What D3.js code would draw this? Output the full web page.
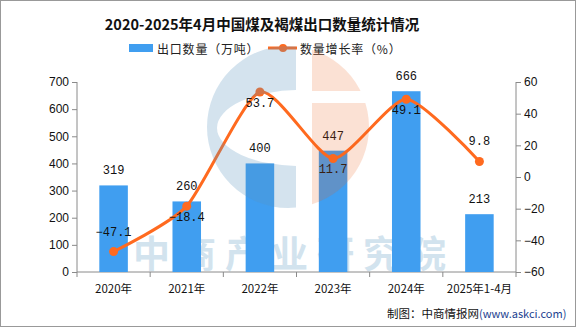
<!DOCTYPE html>
<html><head><meta charset="utf-8">
<script src="https://cdn.jsdelivr.net/npm/d3@7/dist/d3.min.js"></script>
<style>body{margin:0;background:#fff}svg{display:block}</style>
</head><body><svg id="c" width="576" height="327"></svg>
<script>
const categories = ["2020年","2021年","2022年","2023年","2024年","2025年1-4月"];
const exportVolume = [319,260,400,447,666,213];
const growthRate = [-47.1,-18.4,53.7,11.7,49.1,9.8];
const leftTicks = [0,100,200,300,400,500,600,700];
const rightTicks = [-60,-40,-20,0,20,40,60];
const title = "2020-2025年4月中国煤及褐煤出口数量统计情况";
const legendLabels = ["出口数量（万吨）","数量增长率（%）"];

const svg = d3.select("#c");
const FONT = "'Noto Sans CJK SC','Liberation Sans',sans-serif";
const NUMF = "'Liberation Mono','DejaVu Sans Mono',monospace";
const barColor = "#409ef0", lineColor = "#ff6a1f";
const L = 77, R = 516, T = 82, B = 272;

svg.append("rect").attr("x",0.5).attr("y",0.5).attr("width",575).attr("height",326)
  .attr("fill","#fff").attr("stroke","#999");

const x = d3.scaleBand().domain(categories).range([L,R]).paddingInner(0.61).paddingOuter(0.305);
const xc = d => x(d) + x.bandwidth()/2;
const yL = d3.scaleLinear().domain([0,700]).range([B,T]);
const yR = d3.scaleLinear().domain([-60,60]).range([B,T]);

// watermark text (behind)
svg.append("text").attr("x",133).attr("y",268)
  .attr("font-family",FONT).attr("font-weight","bold")
  .attr("font-size",37).attr("letter-spacing",9).attr("fill","#d2e3ee").text("中商产业研究院");

// title
svg.append("text").attr("x",262).attr("y",23).attr("text-anchor","middle").attr("dominant-baseline","central")
  .attr("font-family",FONT).attr("font-weight","bold").attr("font-size",14.5).attr("fill","#111").text(title);

// legend
svg.append("rect").attr("x",129).attr("y",44).attr("width",24).attr("height",8).attr("fill",barColor);
svg.append("text").attr("x",157).attr("y",48.5).attr("dominant-baseline","central").attr("font-family",FONT)
  .attr("font-size",12).attr("letter-spacing",0.8).attr("fill","#222").text(legendLabels[0]);
svg.append("line").attr("x1",268).attr("x2",297).attr("y1",48).attr("y2",48).attr("stroke",lineColor).attr("stroke-width",3);
svg.append("circle").attr("cx",283).attr("cy",48).attr("r",4).attr("fill",lineColor);
svg.append("text").attr("x",300).attr("y",48.5).attr("dominant-baseline","central").attr("font-family",FONT)
  .attr("font-size",12).attr("letter-spacing",0.8).attr("fill","#222").text(legendLabels[1]);

// axes
const axC = "#8a8a8a";
const gL = svg.append("g").attr("transform",`translate(${L},0)`)
  .call(d3.axisLeft(yL).tickValues(leftTicks).tickSize(5).tickPadding(3));
const gR = svg.append("g").attr("transform",`translate(${R},0)`)
  .call(d3.axisRight(yR).tickValues(rightTicks).tickSize(5).tickPadding(3).tickFormat(d => d<0 ? "−"+Math.abs(d) : d));
const xTickPos = d3.range(categories.length+1).map(i => L + i*(R-L)/categories.length);
const gX = svg.append("g").attr("transform",`translate(0,${B})`);
gX.append("line").attr("x1",L).attr("x2",R).attr("stroke",axC);
gX.selectAll("line.t").data(xTickPos).join("line").attr("class","t")
  .attr("x1",d=>d).attr("x2",d=>d).attr("y1",0).attr("y2",5).attr("stroke",axC);
gX.selectAll("text").data(categories).join("text").attr("x",d=>xc(d)).attr("y",16)
  .attr("text-anchor","middle").attr("dominant-baseline","central").attr("font-family",FONT)
  .attr("font-size",11.5).attr("fill","#111").text(d=>d);
[gL,gR].forEach(g=>{
  g.select(".domain").attr("stroke",axC).attr("d", `M0,${T}V${B}`);
  g.selectAll(".tick line").attr("stroke",axC);
  g.selectAll(".tick text").attr("font-family","'Liberation Sans',sans-serif").attr("font-size",12).attr("fill","#111");
});

// bars
svg.append("g").selectAll("rect").data(exportVolume).join("rect")
  .attr("x",(d,i)=>x(categories[i])).attr("width",x.bandwidth())
  .attr("y",d=>yL(d)).attr("height",d=>B-yL(d)).attr("fill",barColor);
svg.append("g").selectAll("text").data(exportVolume).join("text")
  .attr("x",(d,i)=>xc(categories[i])).attr("y",d=>yL(d)-14).attr("text-anchor","middle")
  .attr("dominant-baseline","central").attr("font-family",NUMF).attr("font-size",12).attr("fill","#111").text(d=>d);

// line
const pts = growthRate.map((v,i)=>[xc(categories[i]), yR(v)]);
svg.append("path").attr("d", d3.line().curve(d3.curveCardinal.tension(0.35))(pts))
  .attr("fill","none").attr("stroke",lineColor).attr("stroke-width",3);
svg.append("g").selectAll("circle").data(pts).join("circle")
  .attr("cx",d=>d[0]).attr("cy",d=>d[1]).attr("r",4.5).attr("fill",lineColor);
const labelBelow = [false,true,true,true,true,false];
svg.append("g").selectAll("text").data(growthRate).join("text")
  .attr("x",(d,i)=>pts[i][0]).attr("y",(d,i)=>pts[i][1] + (labelBelow[i] ? 12 : -19))
  .attr("text-anchor","middle").attr("dominant-baseline","central").attr("font-family",NUMF)
  .attr("font-size",12).attr("fill","#111").text(d=> d<0 ? "−"+Math.abs(d).toFixed(1) : d.toFixed(1));

// watermark logo (on top, translucent)
const defs = svg.append("defs");
defs.append("clipPath").attr("id","cl").append("rect").attr("x",0).attr("y",0).attr("width",296).attr("height",327);
const cr = defs.append("clipPath").attr("id","cr");
cr.append("rect").attr("x",312).attr("y",0).attr("width",200).attr("height",91);
cr.append("rect").attr("x",312).attr("y",103).attr("width",200).attr("height",200);
const cx0 = 288, cy0 = 127, r0 = 81;
const circ = `M${cx0-r0},${cy0}a${r0},${r0} 0 1,0 ${2*r0},0a${r0},${r0} 0 1,0 ${-2*r0},0Z`;
const ell = `M217,128a83,38 0 1,0 166,0a83,38 0 1,0 -166,0Z`;
svg.append("path").attr("d",circ+ell).attr("fill-rule","evenodd").attr("clip-path","url(#cl)")
  .attr("fill","rgb(87,147,190)").attr("fill-opacity",0.26);
svg.append("path").attr("d",circ).attr("clip-path","url(#cr)")
  .attr("fill","rgb(232,94,29)").attr("fill-opacity",0.19);

// credit
const cred = svg.append("text").attr("x",387).attr("y",313).attr("dominant-baseline","central")
  .attr("font-family",FONT).attr("font-size",11.5).attr("fill","#111");
cred.append("tspan").text("制图：中商情报网");
cred.append("tspan").attr("fill","#1c3f8f").attr("font-size",11).text("(www.askci.com)");
</script></body></html>
